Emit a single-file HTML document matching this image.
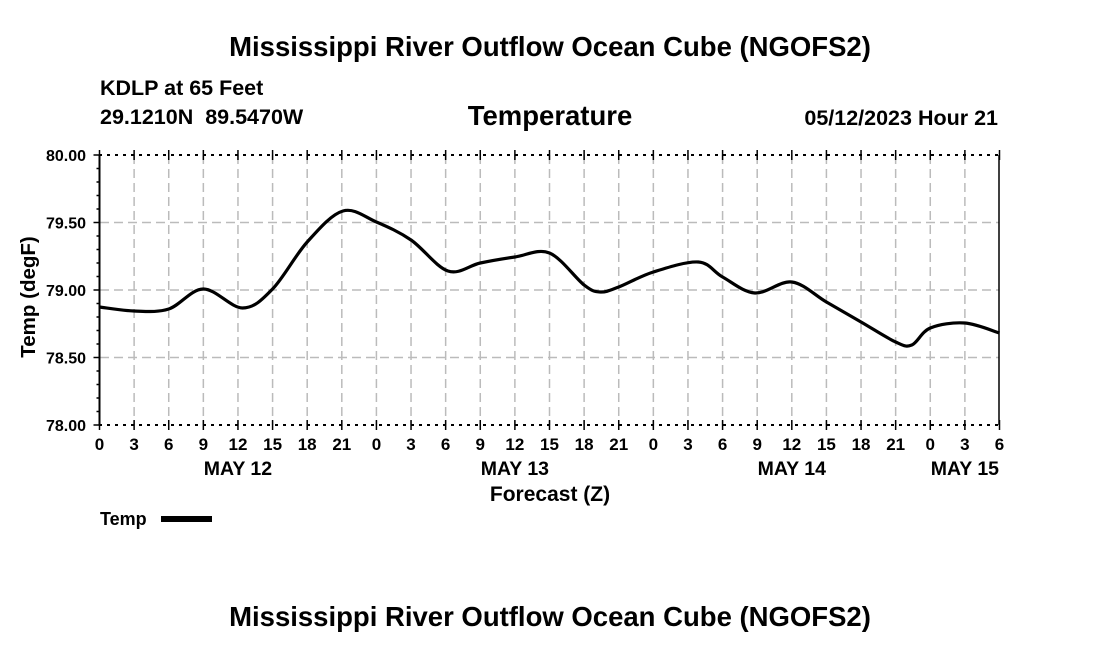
<!DOCTYPE html><html><head><meta charset="utf-8"><style>
body{margin:0;background:#fff;}
svg text{font-family:"Liberation Sans",Arial,sans-serif;font-weight:bold;fill:#000;}
</style></head><body>
<svg id="s" width="1100" height="650" xmlns="http://www.w3.org/2000/svg">
<text x="550" y="56" font-size="27.5" text-anchor="middle">Mississippi River Outflow Ocean Cube (NGOFS2)</text>
<text x="100" y="95" font-size="21.5">KDLP at 65 Feet</text>
<text x="100" y="124" font-size="21.5">29.1210N&#160; 89.5470W</text>
<text x="550" y="125" font-size="27.5" text-anchor="middle">Temperature</text>
<text x="998" y="125" font-size="21.5" text-anchor="end">05/12/2023 Hour 21</text>
<g id="g"></g>
<text x="550" y="501" font-size="21" text-anchor="middle">Forecast (Z)</text>
<text transform="translate(35,297) rotate(-90)" font-size="20.5" text-anchor="middle">Temp (degF)</text>
<text x="100" y="525" font-size="18">Temp</text>
<rect x="161" y="516" width="51" height="6" fill="#000"/>
<text x="550" y="626" font-size="27.5" text-anchor="middle">Mississippi River Outflow Ocean Cube (NGOFS2)</text>
</svg>
<script>
var g=document.getElementById('g'),h='';
function X(t){return 99.5+t*900/78;}function Y(v){return 155+(80-v)*135;}
for(var i=1;i<26;i++){var x=X(i*3);h+='<line x1="'+x+'" y1="155" x2="'+x+'" y2="425" stroke="#bbb" stroke-width="1.5" stroke-dasharray="9,5"/>';}
[79.5,79,78.5].forEach(function(v){h+='<line x1="100" y1="'+Y(v)+'" x2="999" y2="'+Y(v)+'" stroke="#bbb" stroke-width="1.5" stroke-dasharray="9,5"/>';});
h+='<line x1="99" y1="155" x2="999" y2="155" stroke="#000" stroke-width="2" stroke-dasharray="3,5"/>';
h+='<line x1="99" y1="425" x2="999" y2="425" stroke="#000" stroke-width="2" stroke-dasharray="3,5"/>';
h+='<line x1="99.5" y1="155" x2="99.5" y2="425" stroke="#000" stroke-width="2"/>';
h+='<line x1="999" y1="155" x2="999" y2="425" stroke="#000" stroke-width="1.5"/>';
for(var k=0;k<=20;k++){var y=155+k*13.5;var L=(k%5==0)?6:3;h+='<line x1="'+(99.5-L)+'" y1="'+y+'" x2="99.5" y2="'+y+'" stroke="#000" stroke-width="1.5"/>';}
['80.00','79.50','79.00','78.50','78.00'].forEach(function(s,i){h+='<text x="86" y="'+(161+i*67.5)+'" font-size="16" text-anchor="end">'+s+'</text>';});
for(var i=0;i<=26;i++){var x=X(i*3);h+='<line x1="'+x+'" y1="150" x2="'+x+'" y2="160" stroke="#000" stroke-width="1.5"/><line x1="'+x+'" y1="420" x2="'+x+'" y2="430" stroke="#000" stroke-width="1.5"/>';
var hr=(i*3)%24;h+='<text x="'+x+'" y="450" font-size="17" text-anchor="middle">'+hr+'</text>';}
[['MAY 12',12],['MAY 13',36],['MAY 14',60],['MAY 15',75]].forEach(function(d){h+='<text x="'+X(d[1])+'" y="475" font-size="19.5" text-anchor="middle">'+d[0]+'</text>';});
var P=[[0,307],[3,311],[6,309],[9,289],[12.4,308],[15,289],[18,242],[21.1,211],[24,222],[27,240],[30.2,271],[33,263],[36,257],[39,253],[42,285],[43.4,292],[45,287],[48,272],[51.9,262],[54,277],[56.8,293],[60,282],[63,302],[66,322],[69,342],[70.4,345],[72,328],[75,323],[78,333]];
var pts=P.map(function(p){return [X(p[0]),p[1]];});
var d='M'+pts[0][0]+','+pts[0][1];
for(var i=0;i<pts.length-1;i++){var p0=pts[Math.max(0,i-1)],p1=pts[i],p2=pts[i+1],p3=pts[Math.min(pts.length-1,i+2)];
d+=' C'+(p1[0]+(p2[0]-p0[0])/6)+','+(p1[1]+(p2[1]-p0[1])/6)+' '+(p2[0]-(p3[0]-p1[0])/6)+','+(p2[1]-(p3[1]-p1[1])/6)+' '+p2[0]+','+p2[1];}
h+='<path d="'+d+'" fill="none" stroke="#000" stroke-width="3.2" stroke-linejoin="round"/>';
g.innerHTML=h;
</script>
</body></html>
